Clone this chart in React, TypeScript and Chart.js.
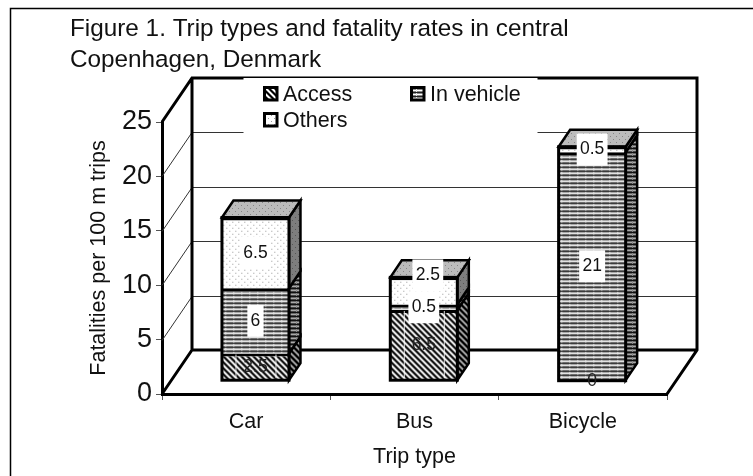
import React, { useEffect, useRef } from "react";
import { Chart, registerables } from "chart.js";

Chart.register(...registerables);

const categories = ["Car", "Bus", "Bicycle"];
const access = [2.5, 6.5, 0];
const inVehicle = [6, 0.5, 21];
const others = [6.5, 2.5, 0.5];
const seriesNames = ["Access", "In vehicle", "Others"];
const titleLines = ["Figure 1. Trip types and fatality rates in central", "Copenhagen, Denmark"];
const FONT = "'Liberation Sans', Arial, sans-serif";
const INK = "#111";

// 3D projection of the plot box
const WALL_DX = 30;
const WALL_DY = 44;
const BAR_OX = 9.3;
const BAR_OY = 13.3;
const BAR_DX = 11.5;
const BAR_DY = 17;

type Px = (x: number, y: number) => string | null;
function tile(w: number, h: number, px: Px): CanvasPattern {
  const c = document.createElement("canvas");
  c.width = w;
  c.height = h;
  const g = c.getContext("2d")!;
  for (let y = 0; y < h; y++)
    for (let x = 0; x < w; x++) {
      const col = px(x, y);
      if (col) {
        g.fillStyle = col;
        g.fillRect(x, y, 1, 1);
      }
    }
  return g.createPattern(c, "repeat")!;
}
const hatch = (a: string, b: string, e: string) =>
  tile(6, 6, (x, y) => {
    const k = (x - y + 6) % 6;
    return k < 2 ? a : k === 2 || k === 5 ? e : b;
  });
const stripes = (rows: string[], v: string) =>
  tile(8, 4, (x, y) => (x === 0 && y !== 0 ? v : rows[y]));
const dots = (bg: string, dot: string) =>
  tile(6, 6, (x, y) => ((x === 1 && y === 1) || (x === 4 && y === 4) ? dot : bg));

export default function App() {
  const ref = useRef<HTMLCanvasElement>(null);

  useEffect(() => {
    const front = [hatch("#000", "#fff", "#777"), stripes(["#222", "#8c8c8c", "#fff", "#888"], "#e4e4e4"), dots("#fff", "#999")];
    const side = [hatch("#000", "#999", "#444"), stripes(["#111", "#666", "#aaa", "#444"], "#888"), dots("#7d7d7d", "#555")];
    const topFace = dots("#bcbcbc", "#858585");

    const wallPlugin = {
      id: "wall3d",
      afterLayout(chart: any) {
        chart.titleBlock.left = 70;
      },
      beforeDraw(chart: any) {
        const { ctx, width, height } = chart;
        ctx.save();
        ctx.fillStyle = "#fff";
        ctx.fillRect(0, 0, width, height);
        ctx.strokeStyle = "#000";
        ctx.lineWidth = 1.5;
        ctx.beginPath();
        ctx.moveTo(10.5, height);
        ctx.lineTo(10.5, 8.5);
        ctx.lineTo(width, 8.5);
        ctx.stroke();
        ctx.restore();
      },
      beforeDatasetsDraw(chart: any) {
        const { ctx, chartArea: a, scales } = chart;
        const y = scales.y;
        ctx.save();
        // grid on back and side walls
        ctx.lineWidth = 1;
        ctx.strokeStyle = "#333";
        for (const t of y.ticks) {
          if (t.value === 0 || t.value === 25) continue;
          const p = Math.round(y.getPixelForValue(t.value)) + 0.5;
          ctx.beginPath();
          ctx.moveTo(a.left, p);
          ctx.lineTo(a.left + WALL_DX, p - WALL_DY);
          ctx.lineTo(a.right + WALL_DX, p - WALL_DY);
          ctx.stroke();
        }
        // heavy box edges
        ctx.lineWidth = 3;
        ctx.strokeStyle = "#000";
        ctx.lineJoin = "miter";
        ctx.beginPath();
        ctx.moveTo(a.left, a.top);
        ctx.lineTo(a.left + WALL_DX, a.top - WALL_DY);
        ctx.lineTo(a.right + WALL_DX, a.top - WALL_DY);
        ctx.lineTo(a.right + WALL_DX, a.bottom - WALL_DY);
        ctx.lineTo(a.right, a.bottom);
        ctx.moveTo(a.left + WALL_DX, a.top - WALL_DY);
        ctx.lineTo(a.left + WALL_DX, a.bottom - WALL_DY);
        ctx.lineTo(a.right + WALL_DX, a.bottom - WALL_DY);
        ctx.moveTo(a.left + WALL_DX, a.bottom - WALL_DY);
        ctx.lineTo(a.left, a.bottom);
        ctx.stroke();

        // side and top faces of the bars
        const metas = chart.data.datasets.map((_: any, i: number) => chart.getDatasetMeta(i));
        ctx.lineWidth = 2.5;
        metas.forEach((m: any, di: number) => {
          m.data.forEach((el: any) => {
            if (Math.abs(el.base - el.y) < 0.01) return;
            const xr = el.x + el.width / 2 + BAR_OX - 1;
            const t = el.y - BAR_OY;
            const b = el.base - BAR_OY;
            ctx.beginPath();
            ctx.moveTo(xr, t);
            ctx.lineTo(xr + BAR_DX, t - BAR_DY);
            ctx.lineTo(xr + BAR_DX, b - BAR_DY);
            ctx.lineTo(xr, b);
            ctx.closePath();
            ctx.fillStyle = side[di];
            ctx.fill();
            ctx.stroke();
          });
        });
        const last = metas[metas.length - 1];
        last.data.forEach((el: any) => {
          const xl = el.x - el.width / 2 + BAR_OX + 1;
          const xr = el.x + el.width / 2 + BAR_OX - 1;
          const t = el.y - BAR_OY;
          ctx.beginPath();
          ctx.moveTo(xl, t);
          ctx.lineTo(xl + BAR_DX, t - BAR_DY);
          ctx.lineTo(xr + BAR_DX, t - BAR_DY);
          ctx.lineTo(xr, t);
          ctx.closePath();
          ctx.fillStyle = topFace;
          ctx.fill();
          ctx.stroke();
        });
        ctx.restore();
        // front faces are drawn by Chart.js, shifted into the floor
        ctx.save();
        ctx.translate(BAR_OX, -BAR_OY);
      },
      afterDatasetsDraw(chart: any) {
        const { ctx } = chart;
        ctx.restore();
        const metas = chart.data.datasets.map((_: any, i: number) => chart.getDatasetMeta(i));
        ctx.save();
        // outline of each stack's front face
        ctx.strokeStyle = "#000";
        ctx.lineWidth = 3;
        metas[0].data.forEach((el: any, i: number) => {
          const topEl = metas[metas.length - 1].data[i];
          const xl = el.x - el.width / 2 + BAR_OX + 1;
          const xr = el.x + el.width / 2 + BAR_OX - 1;
          ctx.strokeRect(xl, topEl.y - BAR_OY, xr - xl, el.base - topEl.y);
        });

        // data labels
        ctx.font = `17.5px ${FONT}`;
        ctx.textAlign = "center";
        ctx.textBaseline = "middle";
        const drawLabels = (di: number) => {
          const m = metas[di];
          const values = chart.data.datasets[di].data;
          m.data.forEach((el: any, i: number) => {
            const v = values[i];
            const text = String(v);
            // the Bus "Others" label sits above its thin segment
            const lift = di === 2 && i === 1 ? 15.5 : 0;
            const nudge = di === 2 && i === 1 ? 4 : 0;
            const cx = el.x + BAR_OX + nudge;
            const cy = (el.y + el.base) / 2 - BAR_OY - lift;
            const w = ctx.measureText(text).width + 6.5;
            if (di === 0) {
              if (v > 0) {
                ctx.fillStyle = "rgba(255,255,255,0.85)";
                ctx.fillRect(cx - 20, el.y - BAR_OY + 1, 1, el.base - el.y - 3);
                ctx.fillRect(cx + 20, el.y - BAR_OY + 1, 1, el.base - el.y - 3);
              }
            } else if (v > 0) {
              ctx.fillStyle = "#fff";
              ctx.fillRect(cx - w / 2, cy - 16, w, 32);
            }
          });
        };
        const drawTexts = (di: number) => {
          const m = metas[di];
          const values = chart.data.datasets[di].data;
          m.data.forEach((el: any, i: number) => {
            const lift = di === 2 && i === 1 ? 15.5 : 0;
            const nudge = di === 2 && i === 1 ? 4 : 0;
            ctx.fillStyle = di === 0 ? "#222" : INK;
            ctx.fillText(String(values[i]), el.x + BAR_OX + nudge, (el.y + el.base) / 2 - BAR_OY - lift);
          });
        };
        [0, 1, 2].forEach(drawLabels);
        [0, 1, 2].forEach(drawTexts);

        // legend on a white panel over the back wall
        ctx.fillStyle = "#fff";
        ctx.fillRect(243.5, 78, 294, 57);
        const items = [
          { col: 0, row: 0 },
          { col: 1, row: 0 },
          { col: 0, row: 1 },
        ];
        ctx.font = `21.5px ${FONT}`;
        ctx.textAlign = "left";
        chart.data.datasets.forEach((ds: any, i: number) => {
          const bx = 264.5 + items[i].col * 147;
          const by = 87.5 + items[i].row * 26;
          ctx.fillStyle = ds.backgroundColor;
          ctx.fillRect(bx, by, 12.5, 12.5);
          ctx.strokeStyle = "#000";
          ctx.lineWidth = 3;
          ctx.strokeRect(bx, by, 12.5, 12.5);
          ctx.fillStyle = INK;
          ctx.fillText(ds.label, bx + 18.5, by + 8);
        });
        ctx.restore();
      },
    };

    const series = [access, inVehicle, others];
    const chart = new Chart(ref.current!, {
      type: "bar",
      data: {
        labels: categories,
        datasets: series.map((data, i) => ({
          label: seriesNames[i],
          data,
          backgroundColor: front[i],
          borderColor: "#000",
          borderWidth: { top: 3, left: 0, right: 0, bottom: 0 },
          borderSkipped: false,
          clip: false,
          categoryPercentage: 1,
          barPercentage: 0.41,
        })),
      } as any,
      options: {
        responsive: false,
        animation: false,
        devicePixelRatio: 1,
        layout: { padding: { left: 10, right: 86, top: 0, bottom: 0 } },
        plugins: {
          legend: { display: false },
          tooltip: { enabled: false },
          title: {
            display: true,
            text: titleLines,
            align: "start",
            color: INK,
            font: { family: FONT, size: 24.3, weight: "normal", lineHeight: 1.27 },
            padding: { top: 14, bottom: 46.3 },
          },
        },
        scales: {
          x: {
            stacked: true,
            afterFit: (s: any) => {
              s.height = 82;
            },
            grid: { drawOnChartArea: false, tickLength: 6, tickColor: "#555", tickWidth: 1 },
            border: { color: "#000", width: 3 },
            ticks: {
              color: INK,
              font: { family: FONT, size: 21.5 },
              padding: 9,
              maxRotation: 0,
              minRotation: 0,
              autoSkip: false,
            },
            title: {
              display: true,
              text: "Trip type",
              color: INK,
              font: { family: FONT, size: 21.5, weight: "normal" },
              padding: { top: 0, bottom: 6 },
            },
          },
          y: {
            stacked: true,
            min: 0,
            max: 25,
            afterFit: (s: any) => {
              s.width = 152;
            },
            grid: { drawOnChartArea: false, tickLength: 6, tickColor: "#555", tickWidth: 1 },
            border: { color: "#000", width: 3 },
            ticks: {
              stepSize: 5,
              color: INK,
              font: { family: FONT, size: 27 },
              padding: 4,
            },
            title: {
              display: true,
              text: "Fatalities per 100 m trips",
              color: INK,
              font: { family: FONT, size: 21.5, weight: "normal" },
              padding: { top: 76, bottom: 0 },
            },
          },
        },
      } as any,
      plugins: [wallPlugin as any],
    });
    return () => chart.destroy();
  }, []);

  return (
    <canvas
      ref={ref}
      width={753}
      height={476}
      style={{ position: "fixed", left: 0, top: 0, display: "block" }}
    />
  );
}
